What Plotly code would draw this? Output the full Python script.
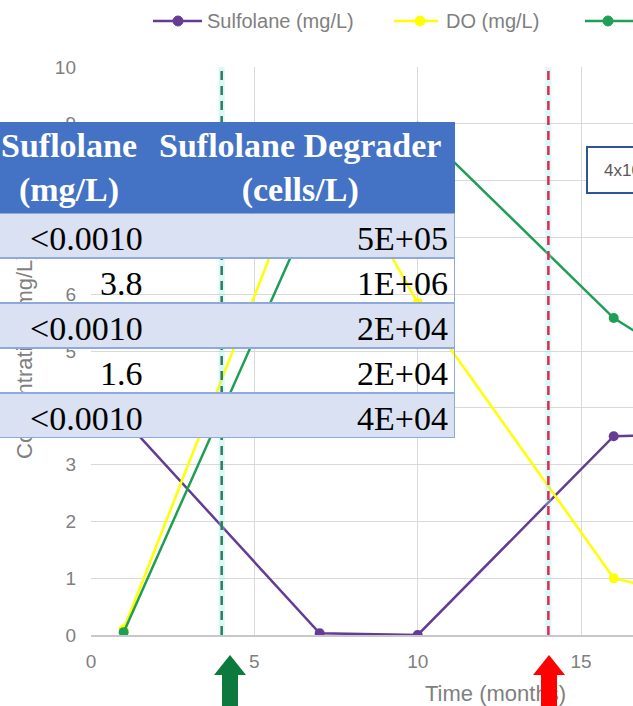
import plotly.graph_objects as go

# ---------------- data ----------------
months = [1, 7, 10, 16, 19]
sulfolane_mgL = [3.8, 0.03, 0.0, 3.5, 3.55]
do_mgL = [0.1, 8.9, 5.85, 1.0, 0.6]
degrader = [0.05, 7.8, 8.95, 5.58, 4.5]

series_names = ["Sulfolane (mg/L)", "DO (mg/L)", "Sulfolane Degrader (x10^5 cells/L)"]
series_colors = ["#643c96", "#ffff00", "#1f9e55"]

event_months = [4, 14]
event_colors = ["#2e7d5e", "#dc2a50"]
arrow_colors = ["#0b7a3c", "#ff0000"]

table_header = ["Suflolane<br>(mg/L)", "Suflolane Degrader<br>(cells/L)"]
table_sulfolane = ["<0.0010", "3.8", "<0.0010", "1.6", "<0.0010"]
table_degrader = ["5E+05", "1E+06", "2E+04", "2E+04", "4E+04"]

x_ticks = [0, 5, 10, 15]
y_ticks = list(range(0, 11))
x_title = "Time (months)"
y_title = "Concentration (mg/L)"
note_text = "4x10\u2075 cells/L"

# ---------------- layout geometry ----------------
W, H = 633, 706
ML, MR, MT, MB = 91, 0, 67, 71
PW = W - ML - MR
PH = H - MT - MB
UNIT_X = 32.67


def fx(X):
    return (X - ML) / PW


def fy(Y):
    return (H - MB - Y) / PH


GRAY = "#7f7f7f"
SANS = "Liberation Sans"
SERIF = "Liberation Serif"

fig = go.Figure()
for ys, name, col in zip([sulfolane_mgL, do_mgL, degrader], series_names, series_colors):
    fig.add_trace(go.Scatter(
        x=months, y=ys, name=name, mode="lines+markers",
        line=dict(color=col, width=2.5),
        marker=dict(color=col, size=10),
        showlegend=False, cliponaxis=True,
    ))

shapes = []
annotations = []

# event dashed lines
for m, c in zip(event_months, event_colors):
    shapes.append(dict(type="line", xref="x", yref="y", x0=m, x1=m, y0=0, y1=10,
                       line=dict(color="rgba(150,235,225,0.35)", width=6), layer="above"))
    shapes.append(dict(type="line", xref="x", yref="y", x0=m, x1=m, y0=0, y1=10,
                       line=dict(color=c, width=2.5, dash="9px,6px"), layer="above"))

# manual legend
leg_y = fy(21)
leg_geo = [(153, 202, 178, 205), (394, 438, 420, 444), (585, 660, 608, 664)]
for (x0, x1, xc, xt), name, col in zip(leg_geo, series_names, series_colors):
    shapes.append(dict(type="line", xref="paper", yref="paper", x0=fx(x0), x1=fx(x1),
                       y0=leg_y, y1=leg_y, line=dict(color=col, width=2.5)))
    shapes.append(dict(type="circle", xref="paper", yref="paper", xsizemode="pixel",
                       ysizemode="pixel", xanchor=fx(xc), yanchor=leg_y,
                       x0=-5, x1=5, y0=-5, y1=5, fillcolor=col, line=dict(color=col, width=1)))
    annotations.append(dict(text=name, x=fx(xt), y=leg_y, xref="paper", yref="paper",
                            xanchor="left", yanchor="middle", showarrow=False,
                            font=dict(family=SANS, size=20, color=GRAY)))

# note box
shapes.append(dict(type="rect", xref="paper", yref="paper", x0=fx(587), x1=fx(760),
                   y0=fy(193), y1=fy(147), fillcolor="white",
                   line=dict(color="#2f5597", width=2)))
annotations.append(dict(text=note_text, x=fx(602), y=fy(170), xref="paper", yref="paper",
                        xanchor="left", yanchor="middle", showarrow=False,
                        font=dict(family=SANS, size=17, color="#595959")))

# axis titles (annotations, so the table can cover them)
annotations.append(dict(text=y_title, x=fx(24), y=fy(356), xref="paper", yref="paper",
                        textangle=-90, showarrow=False, xanchor="center", yanchor="middle",
                        font=dict(family=SANS, size=22, color=GRAY)))
annotations.append(dict(text=x_title, x=fx(495), y=fy(693), xref="paper", yref="paper",
                        showarrow=False, xanchor="center", yanchor="middle",
                        font=dict(family=SANS, size=22, color=GRAY)))

# arrows under the axis
arrow_px = [230, 549]
for xc, col in zip(arrow_px, arrow_colors):
    hx = 16 / PW
    shapes.append(dict(type="path", xref="paper", yref="paper",
                       path=f"M {fx(xc)} {fy(655)} L {fx(xc) - hx} {fy(675)} L {fx(xc) + hx} {fy(675)} Z",
                       fillcolor=col, line=dict(width=0)))
    annotations.append(dict(text="\u00a0", x=fx(xc), y=fy(674), xref="paper", yref="paper",
                            xanchor="center", yanchor="top", showarrow=False,
                            width=16, height=40, bgcolor=col, borderpad=0, borderwidth=0,
                            font=dict(size=4)))

# table (annotations, drawn above the chart)
TL, TR, HT, HB = -2, 455, 122, 213
ROW_H = 45
annotations.append(dict(text="\u00a0", x=fx(TL), y=fy(HT), xref="paper", yref="paper",
                        xanchor="left", yanchor="top", showarrow=False,
                        width=TR - TL, height=HB - HT, bgcolor="#4472C4",
                        borderpad=0, borderwidth=0, font=dict(size=4)))
for i in range(len(table_sulfolane)):
    top = HB + i * ROW_H
    annotations.append(dict(text="\u00a0", x=fx(TL), y=fy(top), xref="paper", yref="paper",
                            xanchor="left", yanchor="top", showarrow=False,
                            width=TR - TL - 2, height=ROW_H - 2,
                            bgcolor="#D9E1F2" if i % 2 == 0 else "rgba(0,0,0,0)",
                            bordercolor="#8EA9DB", borderwidth=1, borderpad=0,
                            font=dict(size=4)))
for hx_, txt in zip([68.5, 300], table_header):
    annotations.append(dict(text="<b>" + txt.replace("<br>", "</b><br><b>") + "</b>",
                            x=fx(hx_), y=fy(168), xref="paper", yref="paper",
                            xanchor="center", yanchor="middle", showarrow=False,
                            font=dict(family=SERIF, size=34, color="white")))
for i, (a, b) in enumerate(zip(table_sulfolane, table_degrader)):
    yc = fy(HB + i * ROW_H + 25)
    for xr, val in zip([145, 450], [a, b]):
        annotations.append(dict(text=val.replace("<", "&lt;"), x=fx(xr), y=yc,
                                xref="paper", yref="paper", xanchor="right",
                                yanchor="middle", showarrow=False,
                                font=dict(family=SERIF, size=34, color="black")))

fig.update_layout(
    width=W, height=H,
    margin=dict(l=ML, r=MR, t=MT, b=MB, pad=0),
    paper_bgcolor="white", plot_bgcolor="white",
    shapes=shapes, annotations=annotations,
    xaxis=dict(range=[0, PW / UNIT_X], tickvals=x_ticks, showgrid=True,
               gridcolor="#d9d9d9", gridwidth=1, zeroline=False, showline=True,
               linecolor="#c8c8c8", linewidth=1.5, ticks="",
               tickfont=dict(family=SANS, size=19, color=GRAY), ticklabelstandoff=8),
    yaxis=dict(range=[0, 10], tickvals=y_ticks, showgrid=True, gridcolor="#d9d9d9",
               gridwidth=1, zeroline=False, showline=False, ticks="",
               tickfont=dict(family=SANS, size=19, color=GRAY), ticklabelstandoff=14),
)

fig.write_html("out.html")
